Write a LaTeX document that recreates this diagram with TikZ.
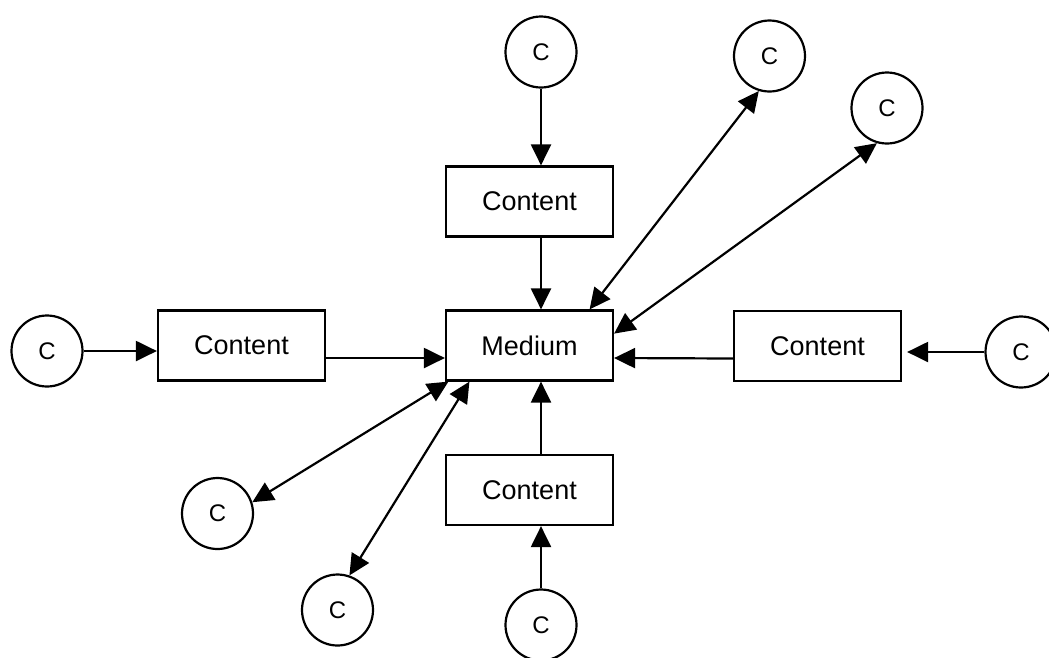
\documentclass[tikz,border=0pt]{standalone}
\usepackage{fontspec}
\setmainfont{Liberation Sans}
\usetikzlibrary{arrows.meta}

\tikzset{
	box/.style={rectangle, draw, line width=2.2pt, minimum width=167pt, minimum height=70pt, inner sep=0pt, font=\fontsize{27}{30}\selectfont},
	cnode/.style={circle, draw, line width=2.2pt, minimum size=71pt, inner sep=0pt, font=\fontsize{24}{28}\selectfont},
	arr/.style={line width=2.2pt, -{Triangle[length=21pt,width=20pt]}},
	darr/.style={line width=2.2pt, {Triangle[length=21pt,width=20pt]}-{Triangle[length=21pt,width=20pt]}}
}

\begin{document}
\begin{tikzpicture}[x=1pt,y=-1pt]
\useasboundingbox (0,0) rectangle (1049,657);

\node[box](medium) at(529.5,345.5) {Medium};
\node[box](ctop) at(529.5,201.5) {Content};
\node[box](cleft) at(241.5,345.5) {Content};
\node[box](cright) at(817.5,346) {Content};
\node[box](cbottom) at(529.5,490) {Content};

\foreach \x \y \n in {
	541/52/ct%
	,769.5/56/ctr,887/108/cfr%
	,47/351/cl,1021/352/cr%
	,217.5/513.5/cbl,337.5/610/cfl%
	,541/625/cb%
}{
	\node[cnode](\n) at(\x,\y) {C};
}

% straight feeds
\draw[arr] (ct) -- (ctop.north -| ct);
\draw[arr] (ctop.south -| ct) -- (medium.north -| ct);
\draw[arr] (cb) -- (cbottom.south -| cb);
\draw[arr] (cbottom.north -| cb) -- (medium.south -| cb);
\draw[arr] (cl) -- (cl -| cleft.west);
\draw[arr, shorten >=5pt] (cr) -- (cr -| cright.east);
\draw[arr] ([yshift=-12.5pt]cleft.east) -- ([yshift=-12.5pt]medium.west);
\draw[arr] ([yshift=-12.5pt]cright.west) -- ([yshift=-12.5pt]medium.east);

% two-way links
\foreach \a \u \b \v in {
	31/ctr/253/medium%
	,8.3/cfr/254/medium%
	,204/cbl/18/medium%
	,211.4/cfl/71.3/medium%
}{
	\draw[darr] (\v.\a) -- (\u.\b);
}
\end{tikzpicture}
\end{document}
